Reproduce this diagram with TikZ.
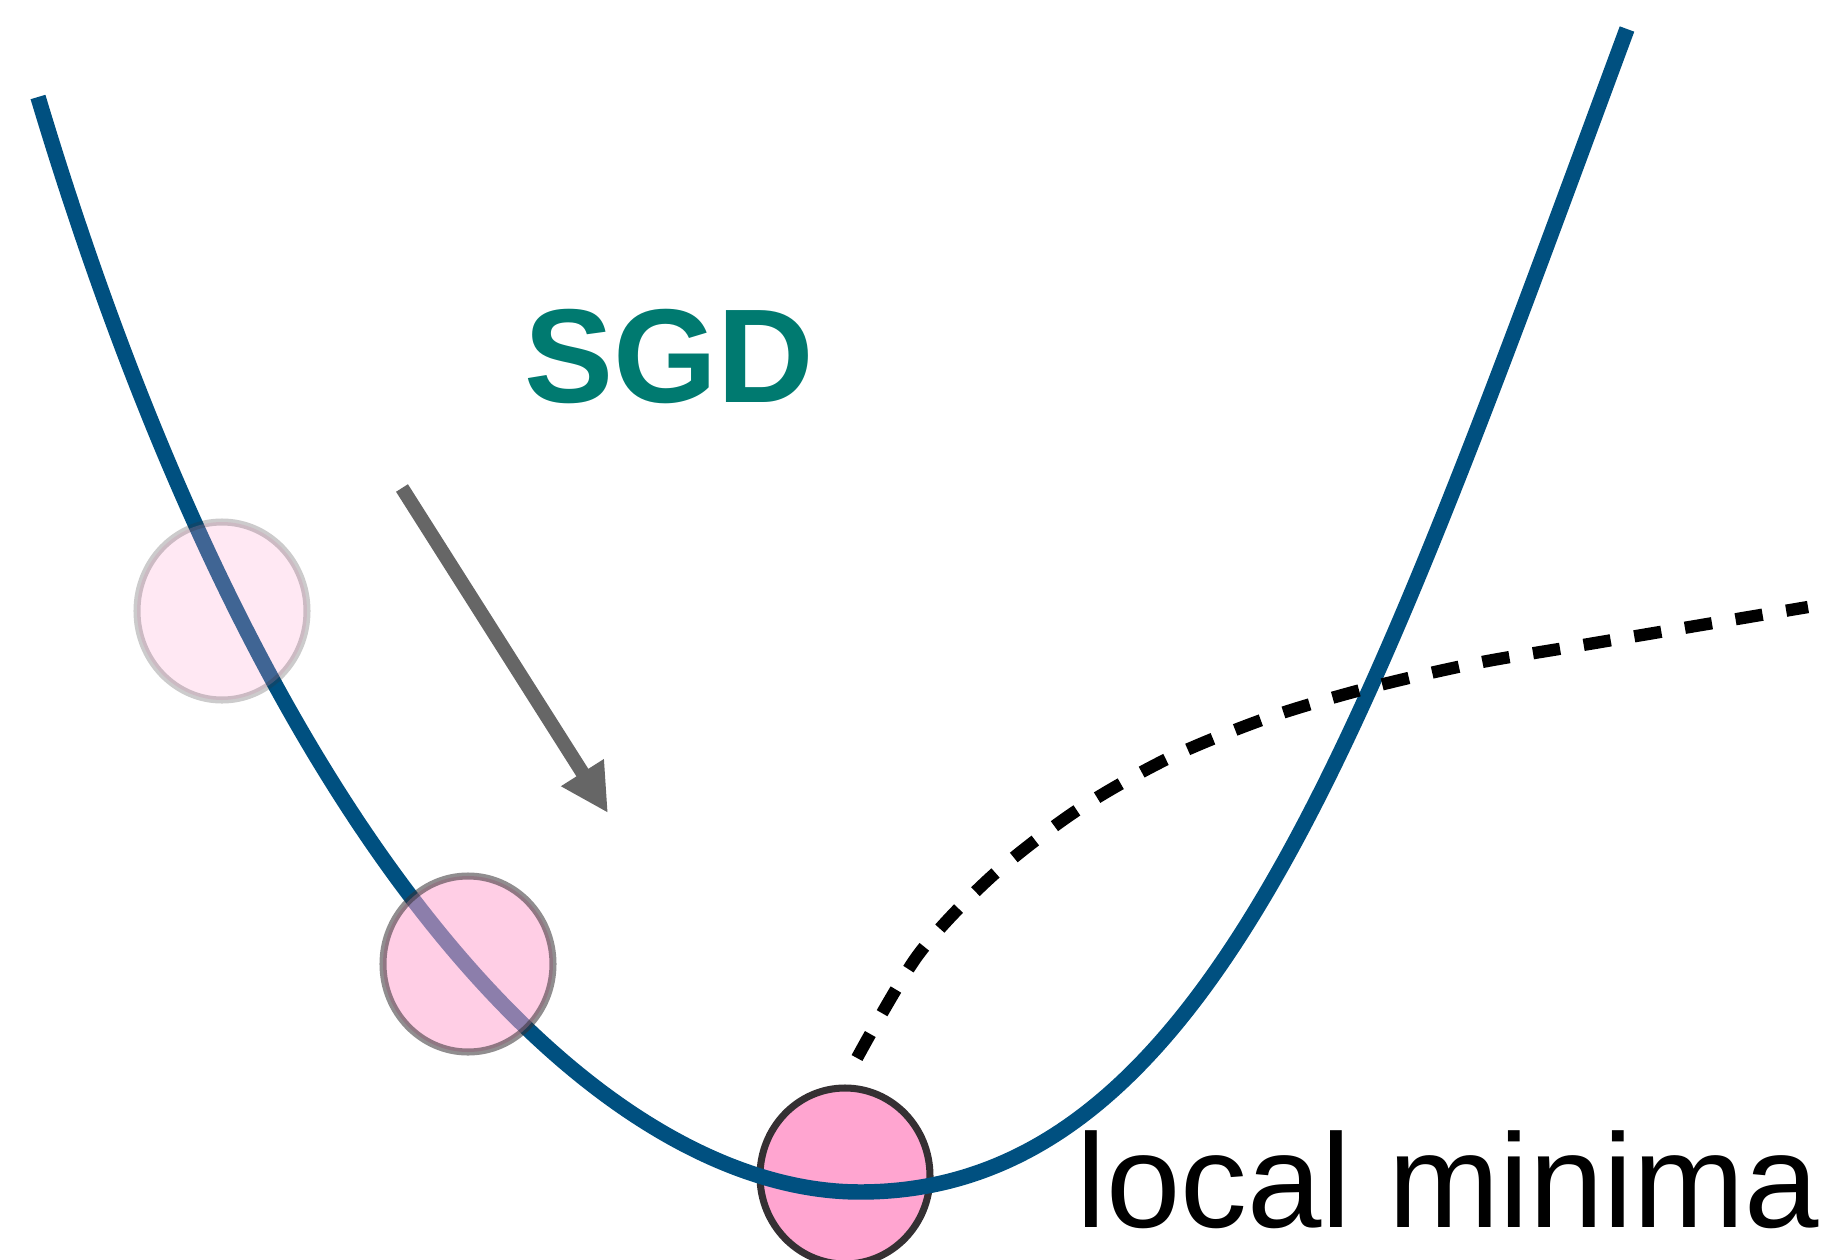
\documentclass[tikz,border=0pt]{standalone}
\usepackage{fontspec}
\setmainfont{Liberation Sans}
\usetikzlibrary{arrows.meta}
\definecolor{valley}{HTML}{005080}
\definecolor{sgdcol}{HTML}{007A70}
\definecolor{ball}{HTML}{FFA5D0}
\definecolor{rim}{HTML}{353033}
\definecolor{push}{HTML}{666666}
\tikzset{
  loss/.style={valley,line width=4.4pt},
  ballpos/.style={draw=rim,fill=ball,line width=2pt},
  trail/.style={black,line width=3.5pt,dash pattern=on 7.8pt off 6.8pt},
  move/.style={-{Triangle[length=13.6pt,width=13.4pt]},push,line width=4pt},
  label/.style={inner sep=0pt},
}

\begin{document}
\begin{tikzpicture}[x=0.01cm,y=-0.01cm]
\useasboundingbox (0,0) rectangle (1829,1260);
\draw[ballpos] (845,1176) ellipse (85 and 88);
\draw[loss] (38,97) .. controls (278,897) and (620,1192) .. (860,1192)
  .. controls (1210,1192) and (1367,731) .. (1627,29);
\draw[ballpos,opacity=0.25] (222,611) ellipse (85 and 89);
\draw[ballpos,opacity=0.55] (468,964) ellipse (85 and 88);
\draw[trail] plot[smooth] coordinates {(857,1058) (918,955) (991,877) (1076,811) (1169,758) (1270,717) (1372,687) (1477,663) (1583,645) (1808,607)};
\coordinate (from) at (402,488);
\coordinate (to) at (608,813);
\draw[move] (from) -- (to);
\node[label,sgdcol,font=\bfseries\fontsize{38}{40}\selectfont,anchor=base] (sgd) at (669,402) {SGD};
\node[label,font=\fontsize{38}{40}\selectfont,anchor=base west] (minima) at (1076,1227) {local minima};
\end{tikzpicture}
\end{document}
